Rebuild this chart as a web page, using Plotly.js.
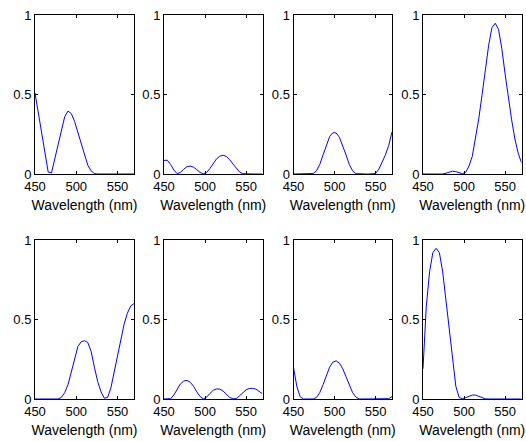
<!DOCTYPE html>
<html>
<head>
<meta charset="utf-8">
<script src="https://cdn.plot.ly/plotly-3.0.1.min.js"></script>
<style>html,body{margin:0;padding:0;background:#fff;}#chart{width:526px;height:441px;}</style>
</head>
<body>
<div id="chart"></div>
<script>
// Wavelength samples (nm)
const wl = [450,454,458,462,466,470,474,478,482,486,490,494,498,502,506,510,514,518,522,526,530,534,538,542,546,550,554,558,562,566,570];

// Panel values
const p1 = [0.51,0.39,0.27,0.15,0.012,0.008,0.10,0.19,0.28,0.36,0.396,0.38,0.33,0.26,0.18,0.11,0.055,0.02,0.003,0,0,0,0,0,0,0,0,0,0,0,0];
const p2 = [0.085,0.087,0.06,0.025,0.002,0.01,0.03,0.046,0.05,0.043,0.027,0.01,0.001,0.01,0.035,0.065,0.095,0.112,0.118,0.11,0.09,0.063,0.035,0.013,0.002,0,0,0,0,0,0];
const p3 = [0,0,0,0,0,0,0.003,0.02,0.06,0.12,0.18,0.235,0.26,0.258,0.23,0.18,0.12,0.06,0.02,0.002,0,0,0,0,0,0.003,0.03,0.07,0.12,0.18,0.265];
const p4 = [0,0,0,0,0,0,0,0.005,0.014,0.018,0.015,0.007,0.002,0.01,0.05,0.11,0.22,0.35,0.50,0.66,0.81,0.92,0.948,0.91,0.79,0.63,0.48,0.34,0.22,0.13,0.07];
const p5 = [0,0,0,0,0,0,0,0,0.01,0.04,0.09,0.17,0.26,0.33,0.36,0.367,0.355,0.30,0.20,0.11,0.045,0.005,0.01,0.07,0.17,0.27,0.37,0.47,0.54,0.585,0.60];
const p6 = [0,0,0.002,0.025,0.06,0.095,0.113,0.117,0.105,0.08,0.045,0.015,0.001,0.012,0.035,0.055,0.063,0.062,0.05,0.03,0.01,0.001,0.003,0.02,0.04,0.058,0.066,0.067,0.062,0.05,0.033];
const p7 = [0.2,0.08,0.015,0,0,0,0,0.01,0.04,0.09,0.15,0.2,0.232,0.24,0.225,0.19,0.14,0.085,0.04,0.012,0,0,0,0,0,0,0,0,0,0.002,0.015];
const p8 = [0.19,0.58,0.80,0.92,0.948,0.92,0.80,0.62,0.42,0.22,0.08,0.01,0.002,0.008,0.018,0.025,0.025,0.018,0.008,0.001,0,0,0,0,0,0,0,0,0,0,0];

const xTicks = [450,500,550];
const yTicks = [0,0.5,1];
const xTitle = 'Wavelength (nm)';

const panels = [p1,p2,p3,p4,p5,p6,p7,p8];

const W = 526, H = 441;
const colsPx = [[35,134],[164,262.5],[293.5,392],[423,521.5]];
const rowsPx = [[15,174],[240,399]];

const data = [];
const layout = {
  width: W, height: H,
  margin: {l:0,r:0,t:0,b:0},
  paper_bgcolor: '#fff', plot_bgcolor: '#fff',
  showlegend: false,
  font: {family: 'Liberation Sans, Arial, sans-serif', color: '#000', size: 13}
};

panels.forEach((vals, i) => {
  const n = i + 1;
  const col = i % 4, row = Math.floor(i / 4);
  const xs = n === 1 ? 'x' : 'x' + n;
  const ys = n === 1 ? 'y' : 'y' + n;
  data.push({
    x: wl, y: vals, type: 'scatter', mode: 'lines',
    xaxis: xs, yaxis: ys,
    line: {color: '#0000ff', width: 1},
    hoverinfo: 'skip'
  });
  const c = colsPx[col], r = rowsPx[row];
  const axCommon = {
    showline: true, linecolor: '#000', linewidth: 1, mirror: 'ticks',
    ticks: 'inside', ticklen: 3, tickcolor: '#000', tickwidth: 1,
    showgrid: false, zeroline: false, fixedrange: true, layer: 'below traces',
    tickfont: {size: 13, color: '#000'}
  };
  layout['xaxis' + (n === 1 ? '' : n)] = Object.assign({}, axCommon, {
    domain: [c[0] / W, c[1] / W],
    range: [450, 570],
    tickvals: xTicks, ticktext: xTicks.map(String),
    anchor: ys,
    title: {text: xTitle, font: {size: 14, color: '#000'}, standoff: 7}
  });
  layout['yaxis' + (n === 1 ? '' : n)] = Object.assign({}, axCommon, {
    domain: [1 - r[1] / H, 1 - r[0] / H],
    range: [0, 1],
    tickvals: yTicks, ticktext: ['0','0.5','1'],
    anchor: xs
  });
});

Plotly.newPlot('chart', data, layout, {displayModeBar: false, staticPlot: true});
</script>
</body>
</html>
